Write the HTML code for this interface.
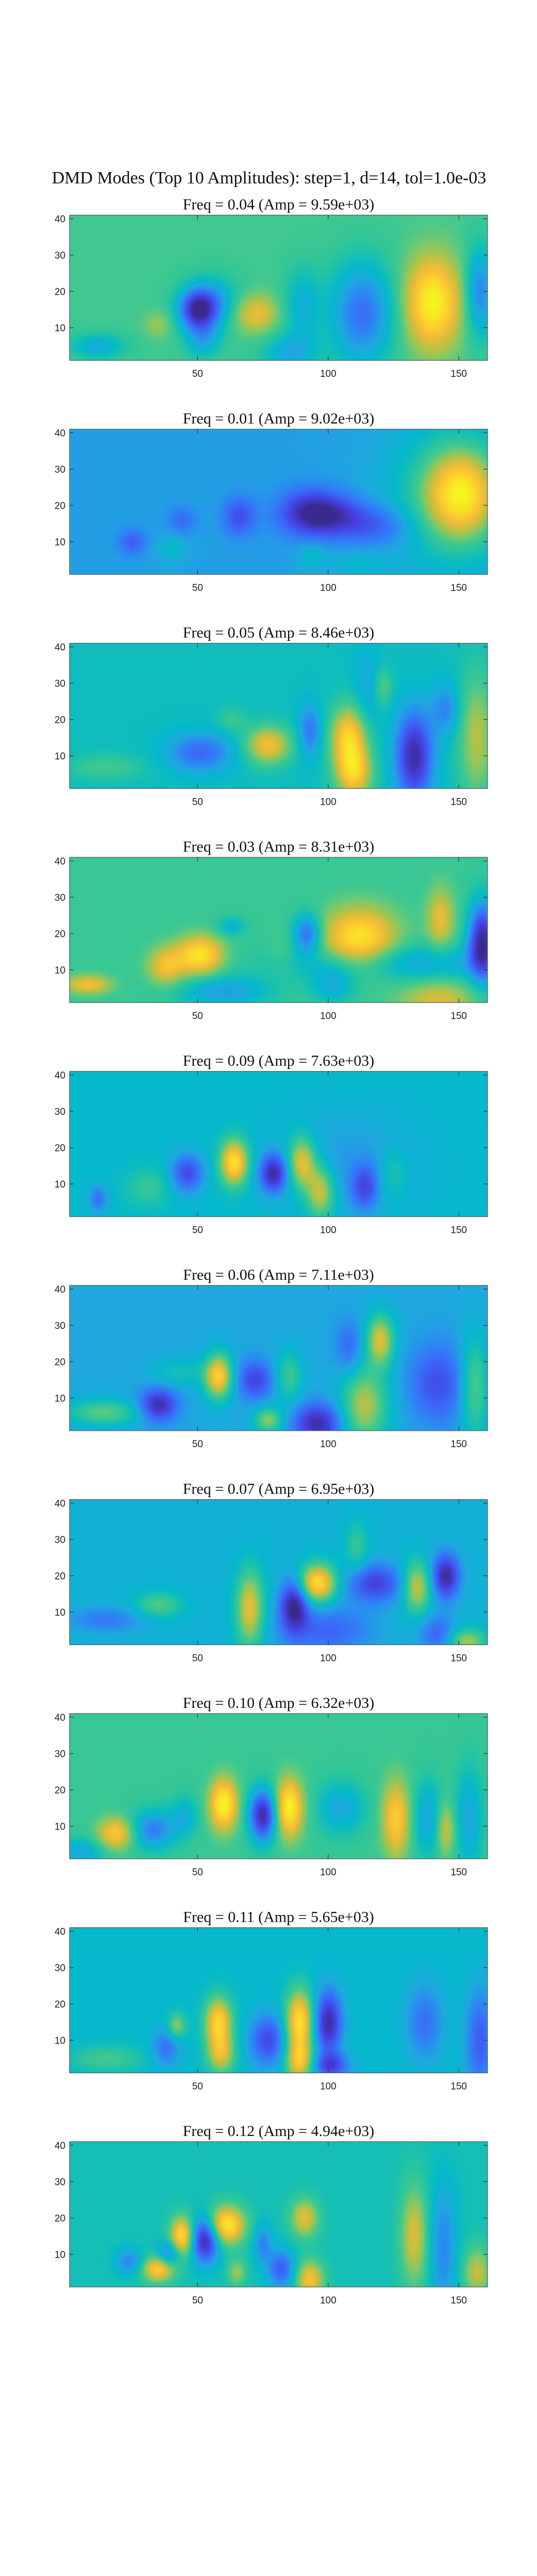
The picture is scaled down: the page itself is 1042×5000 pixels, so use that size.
<!DOCTYPE html>
<html><head><meta charset="utf-8"><style>
body{margin:0;background:#fff;width:1042px;height:5000px;position:relative;overflow:hidden}
canvas{position:absolute}
svg{position:absolute;left:0;top:0}
</style></head><body>
<svg id="ov" width="1042" height="5000">
<text x="522" y="356" text-anchor="middle" font-family="Liberation Serif, serif" font-size="34" fill="#111">DMD Modes (Top 10 Amplitudes): step=1, d=14, tol=1.0e-03</text>
</svg>
<script>
const titles=["Freq = 0.04 (Amp = 9.59e+03)","Freq = 0.01 (Amp = 9.02e+03)","Freq = 0.05 (Amp = 8.46e+03)","Freq = 0.03 (Amp = 8.31e+03)","Freq = 0.09 (Amp = 7.63e+03)","Freq = 0.06 (Amp = 7.11e+03)","Freq = 0.07 (Amp = 6.95e+03)","Freq = 0.10 (Amp = 6.32e+03)","Freq = 0.11 (Amp = 5.65e+03)","Freq = 0.12 (Amp = 4.94e+03)"];
const baseVals=[0.6,0.36,0.48,0.58,0.45,0.38,0.42,0.58,0.45,0.5];
const xTicks=[50,100,150];
const yTicks=[10,20,30,40];
// blobs: [x, y, sigmaX, sigmaY, amplitude]
const blobs1=[[50,15,4,3,-0.45],[55,17,6,4,-0.25],[72,14,5,3,0.22],[113,14,7,8,-0.35],[90,16,4,6,-0.18],[140,17,6,7,0.4],[158,20,3,7,-0.3],[85,3,6,3,-0.2],[12,5,6,2,-0.2],[35,11,3,2,0.1],[52,7,4,3,-0.2]];
const blobs2=[[151,23,8,7,0.5],[145,23,14,12,0.15],[94,18,7,3.5,-0.33],[105,17,8,3,-0.15],[119,14,8,3,-0.15],[66,17,3.5,3,-0.2],[44,16,3,2,-0.12],[25,10,3,2,-0.15],[94,6,3,2,0.1],[112,4,6,2,0.08],[40,8,3,2,0.1]];
const blobs3=[[133,10,4,7,-0.45],[108,15,4,5,0.42],[110,5,4,4,0.35],[77,13,5,3,0.35],[51,11,7,3,-0.25],[93,17,2.5,4,-0.22],[145,23,3,4,-0.18],[157,15,4,10,0.25],[121,29,2,3,0.15],[63,20,3,2,0.1],[115,28,3,7,-0.1],[15,7,8,2,0.12]];
const blobs4=[[51,14,5,3,0.38],[38,11,4,3,0.25],[112,18,8,5,0.4],[159,18,3,6,-0.55],[92,20,3,3,-0.35],[128,12,25,3,-0.2],[143,24,3,5,0.22],[142,2,8,3,0.2],[60,4,10,2.5,-0.22],[102,6,5,3,-0.18],[63,22,3,1.5,-0.15],[8,6,5,1.5,0.25],[82,15,3,3,0.05]];
const blobs5=[[46,13,3.5,3,-0.3],[64,16,3,3.5,0.5],[79,13,3,3,-0.4],[90,16,3,4,0.4],[97,8,3,4,0.35],[114,9,3,3.5,-0.25],[108,16,15,8,-0.1],[125,13,3,4,0.12],[31,9,5,3,0.12],[12,6,2,2,-0.2]];
const blobs6=[[58,16,3,3.5,0.5],[35,8,4,2.5,-0.35],[72,15,4,3,-0.25],[85,16,3,4,0.2],[96,3,5,3,-0.35],[114,8,5,6,0.35],[120,26,3,4,0.4],[108,24,3,4,-0.15],[142,14,6,6,-0.22],[156,13,3,8,0.25],[77,4,3,2,0.3],[14,6,8,2,0.25],[43,17,6,2,0.12]];
const blobs7=[[96,18,4,3,0.52],[87,12,3,4,-0.42],[70,11,3,6,0.38],[145,20,3,3.5,-0.4],[134,17,3,4,0.35],[118,18,6,3,-0.3],[111,28,2.5,4,0.15],[35,12,5,2,0.2],[15,8,8,2,-0.15],[100,5,10,4,-0.2],[153,2,4,2,0.3],[142,4,4,3,-0.2]];
const blobs8=[[19,8,4,2.5,0.3],[33,9,5,3,-0.3],[60,16,3,4,0.42],[75,13,3,4,-0.55],[85,15,3,4.5,0.42],[105,15,5,4,-0.2],[126,12,3,6,0.3],[138,12,3,6,-0.2],[154,12,3,8,-0.2],[145,9,2,4,0.2],[5,3,5,2,-0.2],[45,13,3,3,-0.15]];
const blobs9=[[89,15,3,5,0.5],[89,4,3,3,0.35],[100,15,3,5,-0.42],[58,15,3,4,0.45],[59,6,3,3,0.3],[77,10,4,4,-0.3],[42,14,2,2,0.25],[38,8,3,3,-0.2],[137,15,4,6,-0.2],[158,10,3,8,-0.25],[15,5,8,2,0.15],[101,3,4,2,-0.3]];
const blobs10=[[53,14,3,3.5,-0.5],[44,15,2.5,3,0.45],[61,18,4,3,0.48],[39,10,2.5,2,-0.25],[35,6,3.5,2,0.4],[24,8,3,2,-0.2],[82,6,3,3,-0.3],[93,3,3,3,0.35],[91,20,3,3,0.3],[75,13,2,3,-0.2],[133,15,3,8,0.28],[144,12,3,10,-0.2],[157,5,3,4,0.25],[65,5,2,2,0.2]];
const allBlobs=[blobs1,blobs2,blobs3,blobs4,blobs5,blobs6,blobs7,blobs8,blobs9,blobs10];

const cmapPos=[0,0.12,0.24,0.32,0.38,0.45,0.5,0.55,0.6,0.67,0.74,0.82,0.9,1];
const cmapCol=["#3b2a8e","#4540e0","#3a6cf8","#2a8ef0","#1ea8de","#05b8cc","#15bfb5","#2cc59c","#40c890","#80c868","#c0c040","#f2bc38","#fcd22c","#f5f520"];
const cm=cmapCol.map(h=>[parseInt(h.slice(1,3),16),parseInt(h.slice(3,5),16),parseInt(h.slice(5,7),16)]);
function cmap(v){v=Math.max(0,Math.min(1,v));let i=0;while(i<cmapPos.length-2&&v>cmapPos[i+1])i++;const t=(v-cmapPos[i])/(cmapPos[i+1]-cmapPos[i]);return cm[i].map((c,k)=>c+(cm[i+1][k]-c)*t);}

const SIG=1.25;
const L=135,W=811,H=282,T0=417.5,DY=415.5,XMIN=1,XMAX=161,YMIN=1,YMAX=41;
function sx(x){return L+(x-XMIN)/(XMAX-XMIN)*W;}
function sy(top,y){return top+(YMAX-y)/(YMAX-YMIN)*H;}
const NS="http://www.w3.org/2000/svg";
const ov=document.getElementById('ov');
function mk(tag,attrs){const e=document.createElementNS(NS,tag);for(const k in attrs)e.setAttribute(k,attrs[k]);return e;}

for(let p=0;p<10;p++){
  const top=T0+p*DY;
  const cv=document.createElement('canvas');
  cv.width=W;cv.height=H;cv.style.left=L+'px';cv.style.top=top+'px';
  
  
  document.body.insertBefore(cv,ov);
  const ctx=cv.getContext('2d');const img=ctx.createImageData(W,H);
  const bl=allBlobs[p];
  for(let j=0;j<H;j++){const y=YMAX-(j+0.5)/H*(YMAX-YMIN);
    for(let i=0;i<W;i++){const x=XMIN+(i+0.5)/W*(XMAX-XMIN);
      let v=baseVals[p];
      for(const b of bl){const dx=(x-b[0])/(b[2]*SIG),dy=(y-b[1])/(b[3]*SIG);v+=b[4]*Math.exp(-0.5*(dx*dx+dy*dy));}
      const c=cmap(v);const o=(j*W+i)*4;img.data[o]=c[0];img.data[o+1]=c[1];img.data[o+2]=c[2];img.data[o+3]=255;}}
  ctx.putImageData(img,0,0);
  const g=mk('g',{});
  
  
  const st=mk('text',{x:L+W/2,y:top-11,'text-anchor':'middle','font-family':'Liberation Serif, serif','font-size':'30',fill:'#111'});
  
  
  st.textContent=titles[p];g.appendChild(st);
  const fr=mk('rect',{x:L,y:top,width:W,height:H,fill:'none',stroke:'#555','stroke-width':'1.2'});
  
  
  g.appendChild(fr);
  for(const t of xTicks){const X=sx(t);
    g.appendChild(mk('line',{x1:X,x2:X,y1:top+H,y2:top+H-8,stroke:'#333','stroke-width':'1.2'}));
    g.appendChild(mk('line',{x1:X,x2:X,y1:top,y2:top+8,stroke:'#333','stroke-width':'1.2'}));
    const tl=mk('text',{x:X,y:top+H+32,'text-anchor':'middle','font-family':'Liberation Sans, sans-serif','font-size':'19',fill:'#222'});
    
    
    tl.textContent=t;g.appendChild(tl);}
  for(const t of yTicks){const Y=sy(top,t);
    g.appendChild(mk('line',{x1:L,x2:L+8,y1:Y,y2:Y,stroke:'#333','stroke-width':'1.2'}));
    g.appendChild(mk('line',{x1:L+W,x2:L+W-8,y1:Y,y2:Y,stroke:'#333','stroke-width':'1.2'}));
    const tl=mk('text',{x:127,y:Y+7,'text-anchor':'end','font-family':'Liberation Sans, sans-serif','font-size':'19',fill:'#222'});
    
    
    tl.textContent=t;g.appendChild(tl);}
  ov.appendChild(g);
}
</script>
</body></html>
